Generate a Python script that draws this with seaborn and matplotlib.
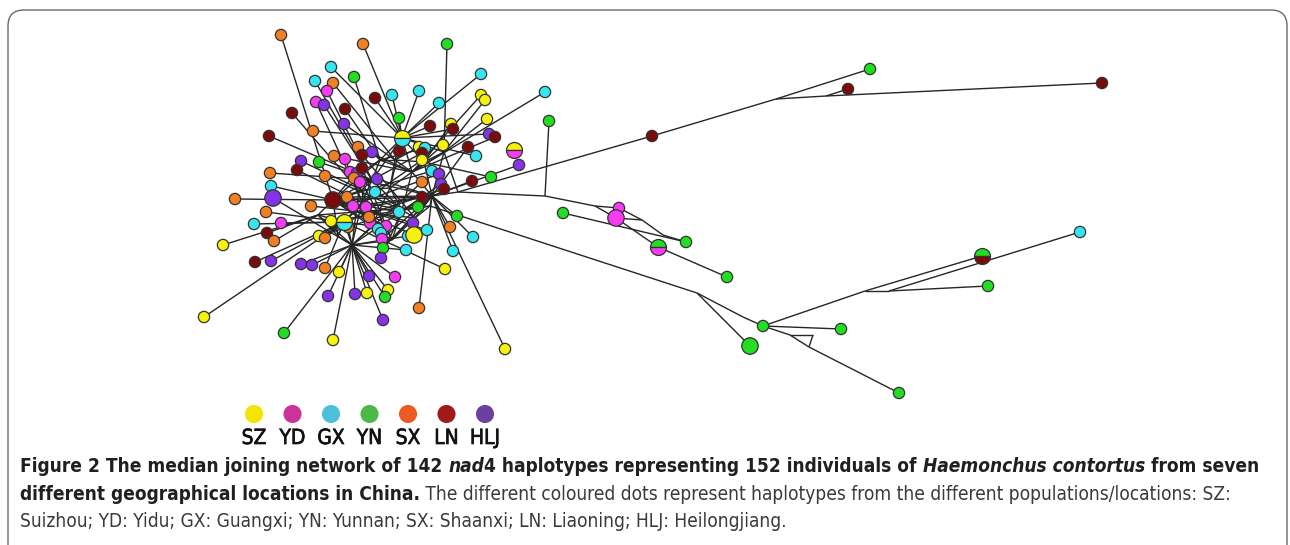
import matplotlib
matplotlib.use("Agg")
import matplotlib.pyplot as plt
from matplotlib import font_manager
from matplotlib import patheffects
from matplotlib.collections import LineCollection
from matplotlib.patches import FancyBboxPatch
import seaborn as sns
import pandas as pd

# populations / legend
populations = ["SZ", "YD", "GX", "YN", "SX", "LN", "HLJ"]
node_colors = ["#f6f20a", "#f43cf2", "#36e6ef", "#22dd22", "#f08022", "#7a0b0b", "#8433e6"]
legend_colors = ["#f2e600", "#cc3399", "#4cc0d8", "#4db848", "#ee5a24", "#a11a1a", "#6b40a0"]

# invisible median vectors (network junctions), image coordinates
hub_name = ["B", "C", "E", "G", "H", "I", "J", "K", "L", "M", "N", "P",
            "Q", "S", "T", "U", "V", "W", "X", "Y",
            "R1", "R2", "R3", "R4", "R5", "R6", "R8", "R9", "R10", "R11", "R12", "R13", "R14"]
hub_x = [380, 432, 352, 458, 444, 372, 402, 318, 392, 412, 362, 430,
         390, 415, 338, 372, 424, 362, 395, 350,
         545, 776, 826, 595, 642, 663, 697, 743, 790, 813, 809, 865, 889]
hub_y = [160, 196, 245, 192, 152, 180, 210, 215, 240, 172, 202, 206,
         188, 218, 236, 226, 162, 190, 160, 180,
         196, 99, 96, 206, 220, 235, 293, 317, 335, 335, 347, 291, 291]

# named haplotypes (used as junctions too)
nm_name = ["D", "ln1", "yn1", "ln2", "ln3", "yn2", "yd1", "yd2", "yn3", "yn4",
           "yn5", "yn6", "yn7", "yn8", "yn9", "yn10", "gx1"]
nm_x = [333, 652, 870, 848, 1102, 549, 619, 616, 563, 686, 727, 750, 763, 841, 899, 988, 1080]
nm_y = [200, 136, 69, 89, 83, 121, 208, 218, 213, 242, 277, 346, 326, 329, 393, 286, 232]
nm_pop = ["LN", "LN", "YN", "LN", "LN", "YN", "YD", "YD", "YN", "YN",
          "YN", "YN", "YN", "YN", "YN", "YN", "GX"]
nm_freq = [2, 1, 1, 1, 1, 1, 1, 2, 1, 1, 1, 2, 1, 1, 1, 1, 1]

# shared haplotypes (two populations)
mx_name = ["A", "F", "mx3", "mx4", "mx5"]
mx_x = [402, 344, 514, 658, 982]
mx_y = [138, 222, 150, 247, 256]
mx_top = ["SZ", "SZ", "SZ", "YN", "YN"]
mx_bottom = ["GX", "GX", "YD", "YD", "LN"]
mx_freq = [2, 2, 2, 2, 2]

# haplotypes of the central cluster: x, y, population, frequency, junction
cl_x = [281, 363, 447, 331, 315, 333, 354, 327, 481, 545, 316, 324, 375, 392, 419, 439,
        481, 485, 345, 292, 344, 399, 430, 451, 453, 487, 269, 313, 489, 495, 519, 476,
        468, 443, 419, 425, 422, 422, 399, 358, 372, 362, 334, 345, 319, 301, 297, 270,
        271, 235, 273, 325, 350, 357, 354, 360, 362, 377, 375, 432, 439, 422, 441, 444,
        472, 491, 347, 422, 311, 266, 353, 366, 399, 418, 457, 450, 473, 453, 445, 254,
        281, 267, 274, 223, 331, 348, 370, 369, 386, 378, 381, 382, 383, 381, 413, 408,
        414, 427, 406, 319, 325, 255, 271, 301, 312, 325, 339, 369, 395, 388, 385, 328,
        355, 367, 419, 383, 204, 284, 333, 505]
cl_y = [35, 44, 44, 67, 81, 83, 77, 91, 74, 92, 102, 105, 98, 95, 91, 103,
        95, 100, 109, 113, 124, 118, 126, 124, 129, 119, 136, 131, 134, 137, 165, 156,
        147, 145, 147, 148, 153, 160, 151, 147, 152, 155, 156, 159, 162, 161, 170, 173,
        186, 199, 198, 176, 172, 173, 178, 182, 168, 179, 192, 171, 174, 182, 184, 189,
        181, 177, 197, 197, 206, 212, 206, 207, 212, 207, 216, 227, 237, 251, 269, 224,
        223, 233, 241, 245, 221, 227, 223, 217, 226, 229, 233, 239, 248, 258, 223, 236,
        235, 230, 250, 236, 238, 262, 261, 264, 265, 268, 272, 276, 277, 290, 297, 296,
        294, 293, 308, 320, 317, 333, 340, 349]
cl_pop = ["SX", "SX", "YN", "GX", "GX", "SX", "YN", "YD", "GX", "GX", "YD", "HLJ", "LN", "GX", "GX", "GX",
          "SZ", "SZ", "LN", "LN", "HLJ", "YN", "LN", "SZ", "LN", "SZ", "LN", "SX", "HLJ", "LN", "HLJ", "GX",
          "LN", "SZ", "SZ", "GX", "LN", "SZ", "LN", "SX", "HLJ", "LN", "SX", "YD", "YN", "HLJ", "LN", "SX",
          "GX", "SX", "HLJ", "SX", "YD", "HLJ", "SX", "YD", "LN", "HLJ", "GX", "GX", "HLJ", "SX", "HLJ", "LN",
          "LN", "YN", "SX", "LN", "SX", "SX", "YD", "YD", "GX", "YN", "YN", "SX", "GX", "GX", "SZ", "GX",
          "YD", "LN", "SX", "SZ", "SZ", "SX", "YD", "SX", "YD", "GX", "GX", "YD", "YN", "HLJ", "HLJ", "GX",
          "SZ", "GX", "GX", "SZ", "SX", "LN", "HLJ", "HLJ", "HLJ", "SX", "SZ", "HLJ", "YD", "SZ", "YN", "HLJ",
          "HLJ", "SZ", "SX", "HLJ", "SZ", "YN", "SZ", "SZ"]
cl_freq = [1] * 50 + [2] + [1] * 45 + [2] + [1] * 23
cl_hub = ["D", "A", "H", "A", "I", "X", "B", "I", "A", "M", "N", "I", "A", "A", "A", "A",
          "M", "H", "B", "Y", "M", "A", "A", "V", "A", "H", "I", "A", "A", "M", "C", "A",
          "C", "M", "X", "B", "I", "N", "A", "M", "B", "Q", "M", "N", "I", "W", "N", "I",
          "D", "D", "E", "J", "J", "L", "C", "E", "L", "C", "F", "D", "N", "E", "E", "F",
          "C", "V", "C", "D", "S", "F", "C", "C", "D", "K", "C", "C", "C", "C", "F", "F",
          "F", "K", "K", "K", "P", "E", "D", "D", "D", "W", "D", "C", "C", "J", "D", "E",
          "D", "D", "E", "J", "F", "F", "F", "E", "E", "F", "E", "E", "E", "E", "E", "E",
          "E", "E", "C", "E", "F", "E", "E", "C"]

# links between junctions / named haplotypes
links = [("A", "B"), ("A", "M"), ("A", "H"), ("B", "I"), ("B", "M"), ("M", "H"), ("H", "C"),
         ("M", "C"), ("I", "N"), ("D", "N"), ("N", "F"), ("F", "K"), ("K", "D"), ("F", "E"),
         ("N", "J"), ("J", "C"), ("J", "L"), ("L", "E"), ("C", "G"), ("C", "L"), ("D", "B"),
         ("M", "J"), ("I", "J"), ("N", "E"), ("K", "E"), ("J", "P"), ("C", "P"), ("A", "I"),
         ("H", "G"), ("I", "D"),
         ("Q", "A"), ("Q", "J"), ("Q", "W"), ("Q", "M"), ("Q", "S"), ("S", "C"), ("S", "L"),
         ("S", "J"), ("T", "E"), ("T", "F"), ("T", "K"), ("U", "L"), ("U", "N"), ("U", "F"),
         ("U", "E"), ("V", "A"), ("V", "M"), ("V", "H"), ("V", "C"), ("W", "I"), ("W", "N"),
         ("W", "D"), ("X", "A"), ("X", "B"), ("X", "V"), ("X", "Q"), ("Y", "D"), ("Y", "I"),
         ("Y", "B"), ("Y", "W"), ("Q", "U"), ("S", "P"), ("T", "D"),
         ("G", "ln1"), ("ln1", "R2"), ("R2", "yn1"), ("R2", "R3"), ("R3", "ln2"), ("R3", "ln3"),
         ("G", "R1"), ("R1", "yn2"), ("R1", "R4"), ("R4", "yd1"), ("R4", "yd2"), ("yd1", "R5"),
         ("yd2", "R5"), ("R5", "R6"), ("R6", "yn4"), ("yn3", "yn4"), ("yd2", "mx4"), ("mx4", "yn5"),
         ("P", "R8"), ("R8", "yn6"), ("R8", "R9"), ("R9", "yn7"), ("yn7", "yn8"), ("yn7", "R10"),
         ("R10", "R11"), ("R11", "R12"), ("R10", "R12"), ("R12", "yn9"), ("yn7", "R13"),
         ("R13", "mx5"), ("R13", "R14"), ("R14", "gx1"), ("R14", "yn10")]


def main():
    sns.set_style("white")
    names = set(f.name for f in font_manager.fontManager.ttflist)
    cap_family = "Liberation Sans Narrow" if "Liberation Sans Narrow" in names else "DejaVu Sans"
    cap_stretch = "normal" if cap_family != "DejaVu Sans" else "condensed"

    fig = plt.figure(figsize=(12.9, 5.45), dpi=100)
    ax = fig.add_axes([0, 0, 1, 1])

    pos = {}
    for n, x, y in zip(hub_name, hub_x, hub_y):
        pos[n] = (x, y)
    for n, x, y in zip(nm_name, nm_x, nm_y):
        pos[n] = (x, y)
    for n, x, y in zip(mx_name, mx_x, mx_y):
        pos[n] = (x, y)

    segs = [[(x, y), pos[h]] for x, y, h in zip(cl_x, cl_y, cl_hub)]
    segs += [[pos[a], pos[b]] for a, b in links]
    ax.add_collection(LineCollection(segs, colors="#262626", linewidths=1.0, zorder=1))

    df = pd.DataFrame({
        "x": cl_x + nm_x,
        "y": cl_y + nm_y,
        "pop": cl_pop + nm_pop,
        "freq": cl_freq + nm_freq,
    })
    palette = dict(zip(populations, node_colors))
    sns.scatterplot(data=df, x="x", y="y", hue="pop", palette=palette, size="freq",
                    sizes={1: 66, 2: 140}, edgecolor="#333333", linewidth=0.9,
                    legend=False, ax=ax, zorder=3)

    for x, y, t, b, f in zip(mx_x, mx_y, mx_top, mx_bottom, mx_freq):
        ax.plot([x], [y], marker="o", markersize=8.5 if f == 1 else 11.5, fillstyle="top",
                markerfacecolor=palette[t], markerfacecoloralt=palette[b],
                markeredgecolor="#333333", markeredgewidth=0.9, linestyle="none", zorder=4)

    # legend
    thick = [patheffects.withStroke(linewidth=0.5, foreground="#111111")]
    for i, (p, c) in enumerate(zip(populations, legend_colors)):
        lx = 254 + i * 38.5
        ax.scatter([lx], [414], s=170, color=c, edgecolor="none", zorder=3)
        ax.text(lx, 438, p, ha="center", va="center", fontsize=15,
                family=cap_family, stretch=cap_stretch, color="#111111",
                path_effects=thick)

    # frame
    ax.add_patch(FancyBboxPatch((8, 10), 1279, 600, boxstyle="round,pad=0,rounding_size=16",
                                fc="none", ec="#6a6a6a", lw=1.0, zorder=0))

    ax.set_xlim(0, 1290)
    ax.set_ylim(545, 0)
    ax.axis("off")

    # caption, pieces placed one after another
    lines = [
        [("Figure 2 The median joining network of 142 ", "bold", "normal"),
         ("nad", "bold", "italic"),
         ("4 haplotypes representing 152 individuals of ", "bold", "normal"),
         ("Haemonchus contortus", "bold", "italic"),
         (" from seven", "bold", "normal")],
        [("different geographical locations in China.", "bold", "normal"),
         (" The different coloured dots represent haplotypes from the different populations/locations: SZ:",
          "normal", "normal")],
        [("Suizhou; YD: Yidu; GX: Guangxi; YN: Yunnan; SX: Shaanxi; LN: Liaoning; HLJ: Heilongjiang.",
          "normal", "normal")],
    ]
    baselines = [472, 500, 527]
    renderer = fig.canvas.get_renderer()

    def draw_line(pieces, y, size):
        x = 20
        arts = []
        for s, w, st in pieces:
            t = ax.text(x, y, s, fontsize=size, weight=w, style=st, family=cap_family,
                        stretch=cap_stretch, va="baseline", ha="left",
                        color="#231f20" if w == "bold" else "#3a3a3a")
            x = t.get_window_extent(renderer).x1
            arts.append(t)
        return x, arts

    width, arts = draw_line(lines[0], baselines[0], 14)
    for a in arts:
        a.remove()
    size = 14 * (1270 - 20) / (width - 20)
    for pieces, y in zip(lines, baselines):
        draw_line(pieces, y, size)

    fig.savefig("out.png", dpi=100)


if __name__ == "__main__":
    main()
